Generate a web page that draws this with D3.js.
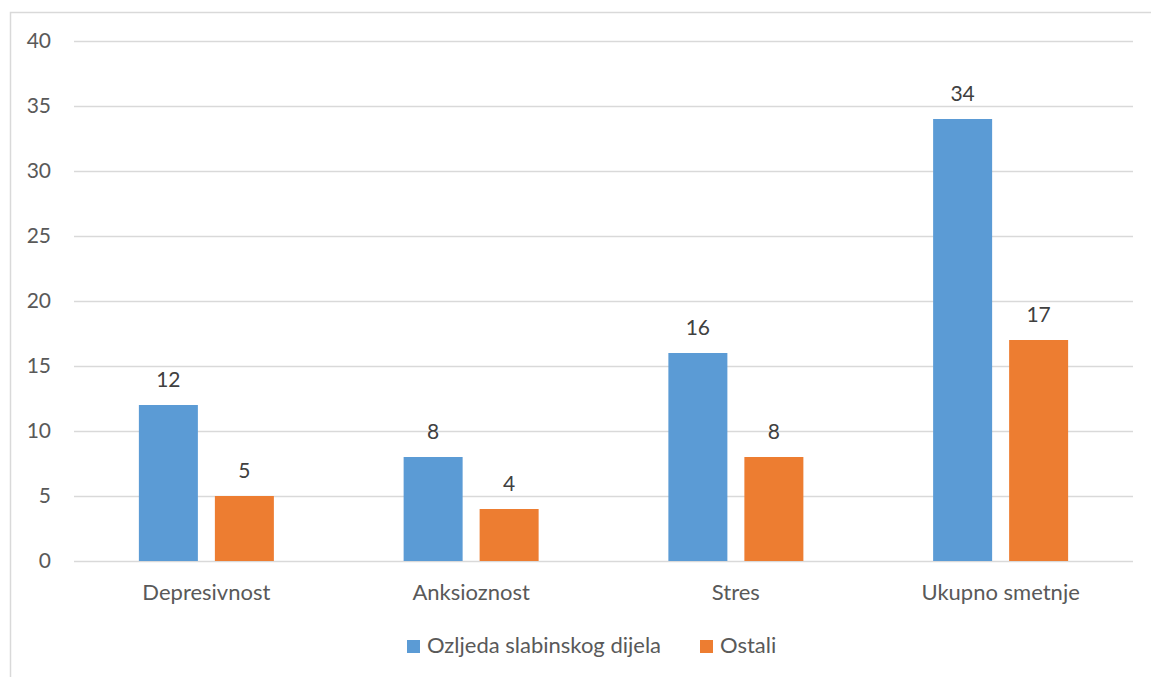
<!DOCTYPE html>
<html><head><meta charset="utf-8">
<script src="https://cdn.jsdelivr.net/npm/d3@7"></script>
<style>
html,body{margin:0;padding:0;background:#fff;overflow:hidden;}
text{font-family:Lato,"Open Sans",sans-serif;}
</style></head>
<body><svg id="c" width="1151" height="677"></svg>
<script>
const categories = ["Depresivnost","Anksioznost","Stres","Ukupno smetnje"];
const seriesNames = ["Ozljeda slabinskog dijela","Ostali"];
const ozljeda = [12, 8, 16, 34];
const ostali = [5, 4, 8, 17];
const yTicks = [0,5,10,15,20,25,30,35,40];
const colors = ["#5B9BD5","#ED7D31"];

const svg = d3.select("#c");
const W = 1151, H = 677;
const m = {left:74, right:1133, top:41, bottom:561};

svg.append("rect").attr("x",10.5).attr("y",12.5).attr("width",W+20).attr("height",H+20)
  .attr("fill","#fff").attr("stroke","#D9D9D9").attr("stroke-width",1.5);

const x = d3.scaleBand().domain(categories).range([m.left,m.right]);
const y = d3.scaleLinear().domain([0,40]).range([m.bottom,m.top]);

const yAxis = svg.append("g").attr("transform",`translate(${m.left},0)`)
  .call(d3.axisLeft(y).tickValues(yTicks).tickSize(-(m.right-m.left)).tickPadding(23));
yAxis.select(".domain").remove();
yAxis.selectAll(".tick line").attr("stroke","#D9D9D9").attr("stroke-width",1.5);
yAxis.selectAll(".tick text").attr("fill","#595959").style("font-size","21px").attr("font-family","Lato");

const series = [ozljeda, ostali];
const barW = 59;
const offsets = [-67.5, 8.5];
series.forEach((vals,si)=>{
  const g = svg.append("g");
  g.selectAll("rect").data(categories).join("rect")
    .attr("x",(d)=>x(d)+x.bandwidth()/2+offsets[si])
    .attr("width",barW)
    .attr("y",(d,i)=>y(vals[i]))
    .attr("height",(d,i)=>y(0)-y(vals[i]))
    .attr("fill",colors[si]);
  g.selectAll("text").data(categories).join("text")
    .attr("x",(d)=>x(d)+x.bandwidth()/2+offsets[si]+barW/2)
    .attr("y",(d,i)=>y(vals[i])-18)
    .attr("text-anchor","middle")
    .attr("fill","#404040").style("font-size","21px")
    .text((d,i)=>vals[i]);
});

svg.append("g").selectAll("text").data(categories).join("text")
  .attr("x",d=>x(d)+x.bandwidth()/2).attr("y",600)
  .attr("text-anchor","middle").attr("fill","#595959").style("font-size","22px")
  .text(d=>d);

const legendX = [407, 700];
const lg = svg.append("g");
seriesNames.forEach((n,i)=>{
  lg.append("rect").attr("x",legendX[i]).attr("y",640).attr("width",13).attr("height",13).attr("fill",colors[i]);
  lg.append("text").attr("x",legendX[i]+20).attr("y",653).attr("fill","#595959").style("font-size","22px").text(n);
});
</script></body></html>
